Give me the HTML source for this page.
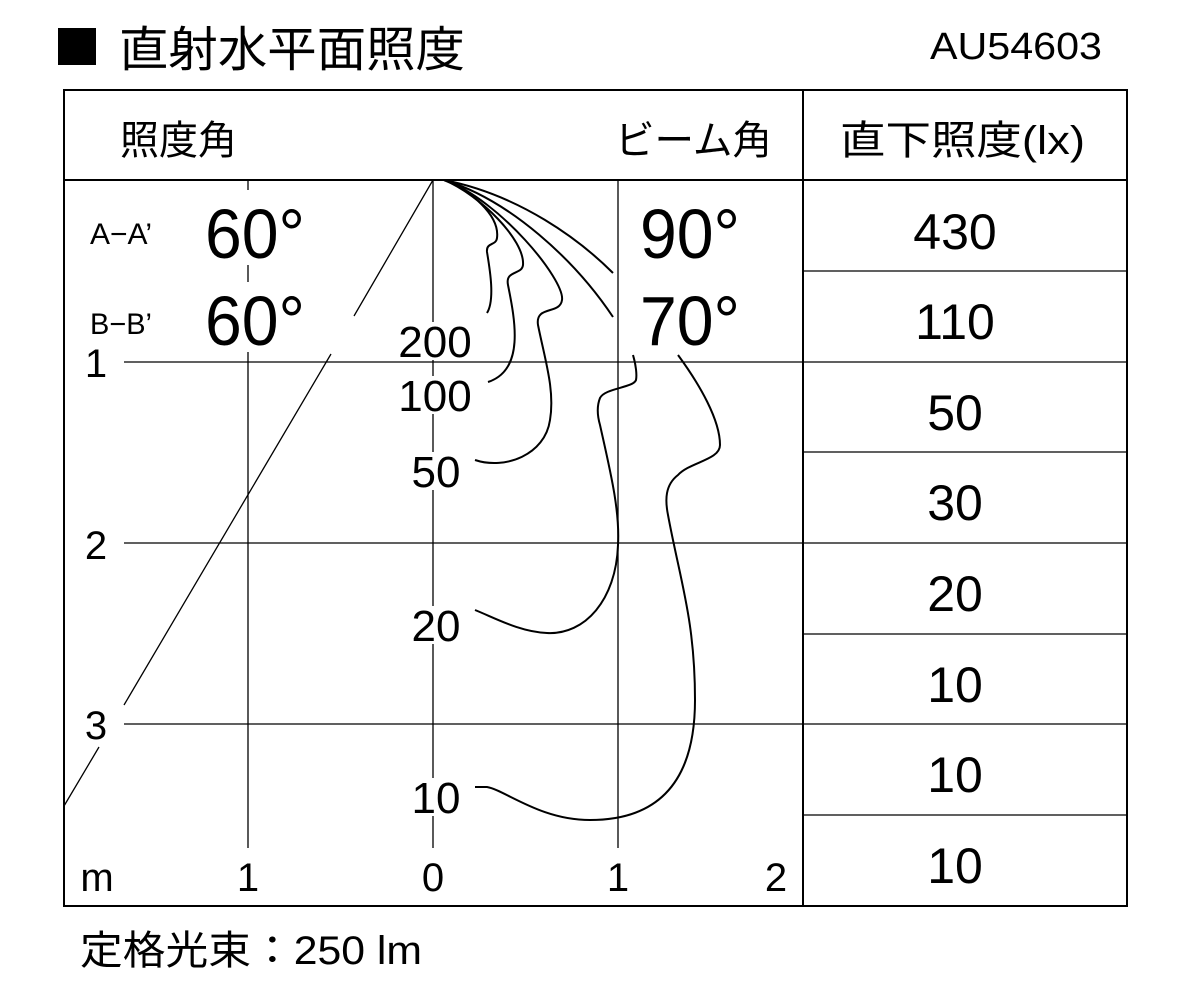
<!DOCTYPE html>
<html><head><meta charset="utf-8"><style>
html,body{margin:0;padding:0;background:#fff;}
svg{display:block;}
text{font-family:"Liberation Sans","Noto Sans CJK JP",sans-serif;fill:#000;}
</style></head><body>
<svg width="1201" height="994" viewBox="0 0 1201 994" xmlns="http://www.w3.org/2000/svg">
<rect x="58" y="28" width="38" height="37" fill="#000"/>
<text x="119" y="66" font-size="48" textLength="346" lengthAdjust="spacingAndGlyphs">直射水平面照度</text>
<text x="930" y="59" font-size="38" textLength="172" lengthAdjust="spacingAndGlyphs">AU54603</text>

<g stroke="#000" stroke-width="1.3" fill="none">
<line x1="124" y1="362" x2="803" y2="362"/>
<line x1="124" y1="543" x2="803" y2="543"/>
<line x1="124" y1="724" x2="803" y2="724"/>
<line x1="248" y1="180" x2="248" y2="848"/>
<line x1="433" y1="180" x2="433" y2="848"/>
<line x1="618" y1="180" x2="618" y2="848"/>
<line x1="433" y1="180" x2="354" y2="316"/>
<line x1="331" y1="354" x2="124" y2="705"/>
<line x1="99" y1="747" x2="64" y2="806"/>
</g>

<g fill="#fff">
<rect x="200" y="190" width="110" height="75"/>
<rect x="200" y="282" width="110" height="70"/>
<rect x="636" y="190" width="110" height="75"/>
<rect x="636" y="282" width="110" height="70"/>
<rect x="398" y="322" width="74" height="38"/>
<rect x="398" y="376" width="74" height="38"/>
<rect x="410" y="452" width="52" height="38"/>
<rect x="410" y="606" width="52" height="38"/>
<rect x="412" y="778" width="50" height="38"/>
</g>

<g stroke="#000" stroke-width="2" fill="none">
<path d="M444,180 C470,190 500,215 497,238 C496,246 486,242 487,252 C490,270 495,300 487,313"/>
<path d="M444,180 C480,195 525,240 523,265 C522,275 505,270 508,285 C515,320 525,370 488,382"/>
<path d="M444,180 C500,200 565,280 562,300 C560,315 535,305 538,325 C545,360 555,390 550,420 C545,455 505,470 475,460"/>
<path d="M444,180 C520,195 580,240 613,273"/>
<path d="M444,180 C510,200 575,260 613,317"/>
<path d="M633,355 C636,365 637,375 636,380 C633,388 605,388 600,398 C596,408 598,418 600,425 C610,470 620,510 618,545 C616,600 585,635 547,633 C520,632 495,618 475,610"/>
<path d="M678,355 C700,385 720,420 720,445 C720,460 690,462 678,475 C665,485 665,500 668,515 C680,580 695,620 695,700 C695,780 660,820 590,820 C540,820 505,790 487,787 L475,787"/>
</g>

<g stroke="#000" stroke-width="2" fill="none">
<rect x="64" y="90" width="1063" height="816"/>
<line x1="64" y1="180" x2="1127" y2="180"/>
<line x1="803" y1="90" x2="803" y2="906"/>
</g>
<g stroke="#000" stroke-width="1.3">
<line x1="803" y1="271" x2="1127" y2="271"/>
<line x1="803" y1="362" x2="1127" y2="362"/>
<line x1="803" y1="452" x2="1127" y2="452"/>
<line x1="803" y1="543" x2="1127" y2="543"/>
<line x1="803" y1="634" x2="1127" y2="634"/>
<line x1="803" y1="724" x2="1127" y2="724"/>
<line x1="803" y1="815" x2="1127" y2="815"/>
</g>

<text x="120" y="154" font-size="40" textLength="117" lengthAdjust="spacingAndGlyphs">照度角</text>
<text x="615" y="154" font-size="40" textLength="157" lengthAdjust="spacingAndGlyphs">ビーム角</text>
<text x="840" y="154" font-size="40" textLength="245" lengthAdjust="spacingAndGlyphs">直下照度(lx)</text>

<text x="90" y="244" font-size="30" textLength="62" lengthAdjust="spacingAndGlyphs">A−A’</text>
<text x="90" y="334" font-size="30" textLength="62" lengthAdjust="spacingAndGlyphs">B−B’</text>
<text x="205" y="258" font-size="70" textLength="100" lengthAdjust="spacingAndGlyphs">60°</text>
<text x="205" y="345" font-size="70" textLength="100" lengthAdjust="spacingAndGlyphs">60°</text>
<text x="640" y="258" font-size="70" textLength="100" lengthAdjust="spacingAndGlyphs">90°</text>
<text x="640" y="345" font-size="70" textLength="100" lengthAdjust="spacingAndGlyphs">70°</text>

<g font-size="50" text-anchor="middle">
<text x="955" y="249">430</text>
<text x="955" y="339">110</text>
<text x="955" y="430">50</text>
<text x="955" y="520">30</text>
<text x="955" y="611">20</text>
<text x="955" y="702">10</text>
<text x="955" y="792">10</text>
<text x="955" y="883">10</text>
</g>

<g font-size="44" text-anchor="middle">
<text x="435" y="357">200</text>
<text x="435" y="411">100</text>
<text x="436" y="487">50</text>
<text x="436" y="641">20</text>
<text x="436" y="813">10</text>
</g>

<g font-size="40" text-anchor="middle">
<text x="96" y="377">1</text>
<text x="96" y="559">2</text>
<text x="96" y="739">3</text>
<text x="97" y="891">m</text>
<text x="248" y="891">1</text>
<text x="433" y="891">0</text>
<text x="618" y="891">1</text>
<text x="776" y="891">2</text>
</g>

<text x="80" y="964" font-size="40" textLength="342" lengthAdjust="spacingAndGlyphs">定格光束：250 lm</text>
</svg>
</body></html>
